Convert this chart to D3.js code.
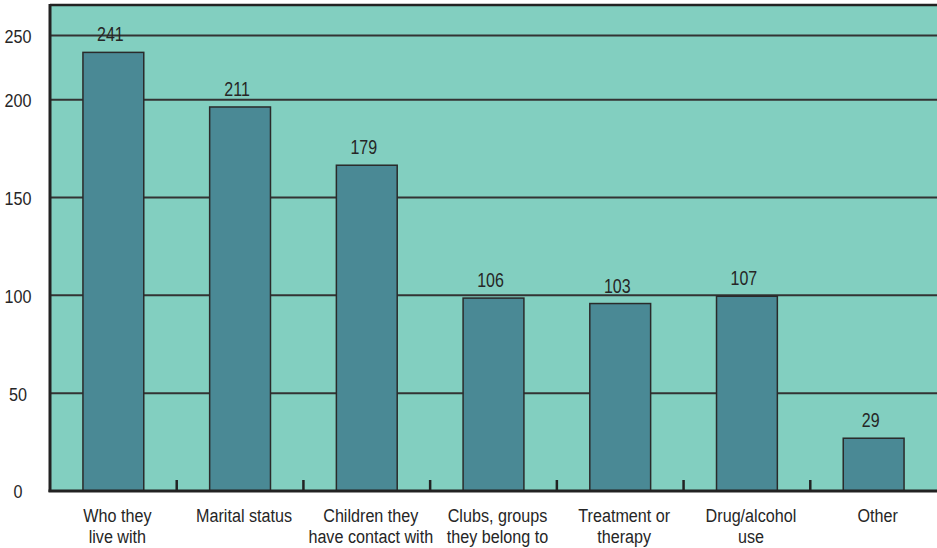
<!DOCTYPE html>
<html>
<head>
<meta charset="utf-8">
<script src="https://cdn.jsdelivr.net/npm/d3@7"></script>
<style>
  html, body { margin: 0; padding: 0; background: #ffffff; }
  svg { display: block; }
  text { font-family: "Liberation Sans", Arial, sans-serif; fill: #262626; }
</style>
</head>
<body>
<svg id="chart" width="937" height="548"></svg>
<script>
// Categories (each entry split into its display lines)
const categories = [
  ["Who they", "live with"],
  ["Marital status"],
  ["Children they", "have contact with"],
  ["Clubs, groups", "they belong to"],
  ["Treatment or", "therapy"],
  ["Drug/alcohol", "use"],
  ["Other"]
];
// Number of responses per category
const counts = [241, 211, 179, 106, 103, 107, 29];
// Value-axis tick values and their labels
const yTicks = [0, 50, 100, 150, 200, 250];
const yTickLabels = ["0", "50", "100", "150", "200", "250"];

const plot = { left: 50, right: 937, top: 5, bottom: 491 };
const narrow = 0.85;           // horizontal squeeze for a condensed look
const keys = categories.map(c => c.join(" "));

const svg = d3.select("#chart");

const x = d3.scaleBand()
  .domain(keys)
  .range([plot.left, plot.right])
  .paddingInner(0.52)
  .paddingOuter(0.26);
const cx = k => x(k) + x.bandwidth() / 2;

// Bars are measured on a linear count scale
const y = d3.scaleLinear().domain([0, 250]).range([plot.bottom, 36]);
// Gridline / axis scale (the printed value axis is not uniform above 200)
const yAxisScale = d3.scaleLinear().domain([0, 200, 250]).range([plot.bottom, 99.7, 35.5]);

// Plot background
svg.append("rect")
  .attr("x", plot.left).attr("y", plot.top)
  .attr("width", plot.right - plot.left).attr("height", plot.bottom - plot.top)
  .attr("fill", "#82cfc0");

// Horizontal gridlines
svg.append("g")
  .selectAll("line")
  .data(yTicks.filter(d => d > 0))
  .join("line")
  .attr("x1", plot.left).attr("x2", plot.right)
  .attr("y1", d => yAxisScale(d)).attr("y2", d => yAxisScale(d))
  .attr("stroke", "#333")
  .attr("stroke-width", 2);

// Value axis labels
const yAxis = d3.axisLeft(yAxisScale)
  .tickValues(yTicks)
  .tickFormat((d, i) => yTickLabels[i])
  .tickSize(0);
const gy = svg.append("g").call(yAxis);
gy.attr("font-family", null).attr("font-size", null);
gy.select(".domain").remove();
gy.selectAll(".tick text")
  .attr("x", 0)
  .attr("dy", "0.36em")
  .attr("text-anchor", "middle")
  .attr("fill", null)
  .attr("transform", `translate(18,0) scale(${narrow},1)`)
  .style("font-size", "19px");

// Bars
svg.append("g")
  .selectAll("rect")
  .data(counts)
  .join("rect")
  .attr("x", (d, i) => x(keys[i]))
  .attr("y", d => y(d))
  .attr("width", x.bandwidth())
  .attr("height", d => plot.bottom - y(d))
  .attr("fill", "#4a8995")
  .attr("stroke", "#2a2a2a")
  .attr("stroke-width", 1.5);

// Value labels above bars
svg.append("g")
  .selectAll("text")
  .data(counts)
  .join("text")
  .attr("transform", (d, i) => `translate(${cx(keys[i]) - 3},${y(d) - 11}) scale(0.82,1)`)
  .attr("text-anchor", "middle")
  .style("font-size", "19.5px")
  .text(d => d);

// Frame: left and top borders
svg.append("line")
  .attr("x1", plot.left).attr("x2", plot.left)
  .attr("y1", plot.top - 1).attr("y2", plot.bottom + 1)
  .attr("stroke", "#222").attr("stroke-width", 3);
svg.append("line")
  .attr("x1", plot.left).attr("x2", plot.right)
  .attr("y1", plot.top).attr("y2", plot.top)
  .attr("stroke", "#222").attr("stroke-width", 2.5);

// Category axis: baseline with ticks between bands
const gx = svg.append("g");
gx.append("line")
  .attr("x1", plot.left - 1.5).attr("x2", plot.right)
  .attr("y1", plot.bottom).attr("y2", plot.bottom)
  .attr("stroke", "#222").attr("stroke-width", 3);
gx.selectAll("line.sep")
  .data(keys.slice(1))
  .join("line")
  .attr("class", "sep")
  .attr("x1", k => x(k) - x.step() * x.paddingInner() / 2)
  .attr("x2", k => x(k) - x.step() * x.paddingInner() / 2)
  .attr("y1", plot.bottom - 11).attr("y2", plot.bottom)
  .attr("stroke", "#222").attr("stroke-width", 2.5);

// Category labels
const lab = gx.selectAll("text")
  .data(categories)
  .join("text")
  .attr("transform", (c, i) => `translate(${cx(keys[i]) + 4},521.5) scale(${narrow},1)`)
  .attr("text-anchor", "middle")
  .style("font-size", "19px");
lab.selectAll("tspan")
  .data(c => c)
  .join("tspan")
  .attr("x", 0)
  .attr("dy", (d, j) => j === 0 ? 0 : 21.8)
  .text(d => d);
</script>
</body>
</html>
